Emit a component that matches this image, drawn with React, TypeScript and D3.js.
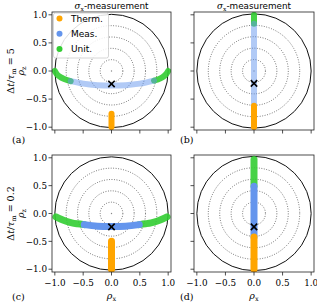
import * as d3 from "d3";

// panel data (rho_x, rho_z)
const panelIds = ["a", "b", "c", "d"];
const titles = ["σx-measurement", "σx-measurement", "", ""];
const rowLabels = ["Δt/τm = 5", "Δt/τm = 0.2"];
const ticks = [-1, -0.5, 0, 0.5, 1];
const ringRadii = [0.2, 0.4, 0.6, 0.8];
const legendLabels = ["Therm.", "Meas.", "Unit."];

const thermA: [number, number][] = [[0, -1], [0, -0.76]];
const measA: [number, number][] = [[-0.72, -0.18], [-0.5, -0.225], [-0.25, -0.252], [0, -0.26], [0.25, -0.252], [0.5, -0.225], [0.75, -0.17]];
const unitA: [number, number][][] = [
  [[-1.0, 0.0], [-0.95, -0.075], [-0.88, -0.12], [-0.8, -0.155], [-0.72, -0.18]],
  [[0.75, -0.17], [0.82, -0.15], [0.9, -0.11], [0.96, -0.06], [1.0, 0.0]],
];

const thermB: [number, number][] = [[0, -1], [0, -0.62]];
const measB: [number, number][] = [[0, -0.62], [0, 0.84]];
const unitB: [number, number][][] = [[[0, 0.84], [0, 1.0]]];

const thermC: [number, number][] = [[0, -1], [0, -0.5]];
const measC: [number, number][] = [[-0.48, -0.2], [-0.25, -0.228], [0, -0.235], [0.25, -0.228], [0.49, -0.2]];
const unitC: [number, number][][] = [
  [[-0.98, -0.06], [-0.9, -0.1], [-0.8, -0.14], [-0.7, -0.168], [-0.6, -0.185], [-0.48, -0.2]],
  [[0.49, -0.2], [0.6, -0.185], [0.7, -0.168], [0.8, -0.14], [0.9, -0.1], [0.98, -0.06]],
];

const thermD: [number, number][] = [[0, -1], [0, -0.42]];
const measD: [number, number][] = [[0, -0.42], [0, 0.49]];
const unitD: [number, number][][] = [[[0, 0.49], [0, 0.97]]];

const markers: [number, number][] = [[0, -0.23], [0, -0.22], [0, -0.24], [0, -0.24]];

const therms = [thermA, thermB, thermC, thermD];
const meas = [measA, measB, measC, measD];
const units = [unitA, unitB, unitC, unitD];

const colors = { therm: "#ffa500", meas: "#6495ed", unit: "#32cd32" };

const boxes = [
  { x0: 52, x1: 171, y0: 12, y1: 130 },
  { x0: 194, x1: 314, y0: 12, y1: 130 },
  { x0: 52, x1: 171, y0: 155, y1: 272 },
  { x0: 194, x1: 314, y0: 155, y1: 272 },
];

const serif = "DejaVu Serif, serif";
const sans = "DejaVu Sans, sans-serif";
const fmt = d3.format(".1f");

function Panel({ i }: { i: number }) {
  const b = boxes[i];
  const x = d3.scaleLinear().domain([-1.05, 1.05]).range([b.x0, b.x1]);
  const y = d3.scaleLinear().domain([-1.05, 1.05]).range([b.y1, b.y0]);
  const line = d3.line<[number, number]>().x(d => x(d[0])).y(d => y(d[1])).curve(d3.curveCatmullRom);
  const ppu = x(1) - x(0);
  const top = i < 2;
  const left = i % 2 === 0;
  const clipId = `clip-${panelIds[i]}`;
  const sw = top ? 6 : 7;
  const [mx, my] = markers[i];
  return (
    <g>
      <clipPath id={clipId}>
        <rect x={b.x0} y={b.y0} width={b.x1 - b.x0} height={b.y1 - b.y0} />
      </clipPath>
      <g clipPath={`url(#${clipId})`}>
        {ringRadii.map(r => (
          <circle key={r} cx={x(0)} cy={y(0)} r={r * ppu} fill="none" stroke="#000"
            strokeOpacity={0.75} strokeWidth={0.8} strokeDasharray="0.9 1.6" />
        ))}
        <circle cx={x(0)} cy={y(0)} r={0.7} fill="#888" />
        <circle cx={x(0)} cy={y(0)} r={ppu} fill="none" stroke="#111" strokeWidth={1} />
        {units[i].map((seg, k) => (
          <path key={k} d={line(seg) as string} fill="none" stroke={colors.unit}
            strokeWidth={sw} strokeLinecap="round" strokeOpacity={0.9} />
        ))}
        <path d={line(meas[i]) as string} fill="none" stroke={colors.meas}
          strokeWidth={sw} strokeLinecap="round" strokeOpacity={top ? 0.5 : 1} />
        <path d={line(therms[i]) as string} fill="none" stroke={colors.therm}
          strokeWidth={sw} strokeLinecap="round" />
        <g stroke="#000" strokeWidth={1.6}>
          <line x1={x(mx) - 3.2} y1={y(my) - 3.2} x2={x(mx) + 3.2} y2={y(my) + 3.2} />
          <line x1={x(mx) - 3.2} y1={y(my) + 3.2} x2={x(mx) + 3.2} y2={y(my) - 3.2} />
        </g>
      </g>
      <rect x={b.x0} y={b.y0} width={b.x1 - b.x0} height={b.y1 - b.y0} fill="none" stroke="#222" strokeWidth={0.8} />
      {ticks.map(t => (
        <g key={"x" + t}>
          <line x1={x(t)} x2={x(t)} y1={b.y1} y2={b.y1 + 3.5} stroke="#222" strokeWidth={0.8} />
          {!top && (
            <text x={x(t)} y={b.y1 + 14} textAnchor="middle" fontFamily={serif} fontSize={8.8}>{fmt(t)}</text>
          )}
        </g>
      ))}
      {ticks.map(t => (
        <g key={"y" + t}>
          <line x1={b.x0 - 3.5} x2={b.x0} y1={y(t)} y2={y(t)} stroke="#222" strokeWidth={0.8} />
          {left && (
            <text x={b.x0 - 5} y={y(t) + 3.2} textAnchor="end" fontFamily={serif} fontSize={8.8}>{fmt(t)}</text>
          )}
        </g>
      ))}
      {titles[i] && (
        <text x={(b.x0 + b.x1) / 2} y={9} textAnchor="middle" fontFamily={sans} fontSize={8.8}>
          <tspan fontFamily={serif} fontStyle="italic">σ</tspan>
          <tspan fontSize={6} dy={2} fontFamily={serif}>x</tspan>
          <tspan dy={-2}>-measurement</tspan>
        </text>
      )}
      {!top && (
        <text x={(b.x0 + b.x1) / 2} y={b.y1 + 27} textAnchor="middle" fontFamily={serif} fontSize={9.5}>
          <tspan fontStyle="italic">ρ</tspan>
          <tspan fontSize={6.5} dy={2}>x</tspan>
        </text>
      )}
      <text x={left ? 12 : 180} y={top ? 143 : 300} fontFamily={serif} fontSize={9.5}>({panelIds[i]})</text>
      {left && (
        <g>
          <text transform={`translate(14,${(b.y0 + b.y1) / 2}) rotate(-90)`} textAnchor="middle" fontFamily={serif} fontSize={9.5}>
            <tspan>Δ</tspan><tspan fontStyle="italic">t</tspan><tspan>/</tspan><tspan fontStyle="italic">τ</tspan>
            <tspan fontSize={6.5} dy={2}>m</tspan>
            <tspan dy={-2}>{" = " + rowLabels[i / 2].split("= ")[1]}</tspan>
          </text>
          <text transform={`translate(24,${(b.y0 + b.y1) / 2}) rotate(-90)`} textAnchor="middle" fontFamily={serif} fontSize={9.5}>
            <tspan fontStyle="italic">ρ</tspan>
            <tspan fontSize={6.5} dy={2}>z</tspan>
          </text>
        </g>
      )}
    </g>
  );
}

function Legend() {
  const b = boxes[0];
  const keys: (keyof typeof colors)[] = ["therm", "meas", "unit"];
  return (
    <g>
      <rect x={b.x0 + 1.5} y={b.y0 + 1} width={55} height={45} rx={2} fill="#fff" fillOpacity={0.85}
        stroke="#ccc" strokeWidth={0.8} />
      {legendLabels.map((l, k) => (
        <g key={l}>
          <circle cx={59.5} cy={18.5 + k * 15.3} r={3} fill={colors[keys[k]]} />
          <text x={71} y={21.8 + k * 15.3} fontFamily={sans} fontSize={9}>{l}</text>
        </g>
      ))}
    </g>
  );
}

export default function App() {
  return (
    <svg width={317} height={302} style={{ position: "absolute", left: 0, top: 0, background: "#fff" }}>
      {panelIds.map((_, i) => <Panel key={i} i={i} />)}
      <Legend />
    </svg>
  );
}
